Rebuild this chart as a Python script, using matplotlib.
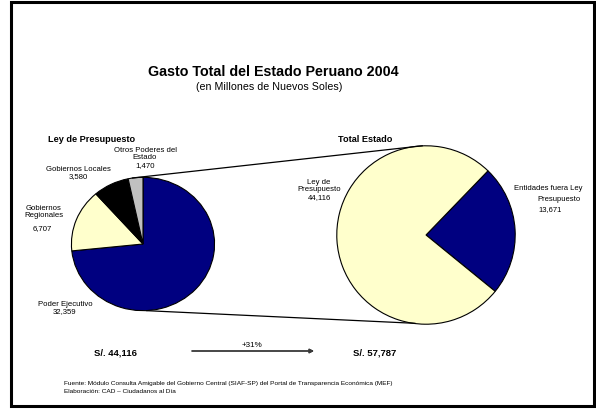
import matplotlib.pyplot as plt
from matplotlib.patches import Rectangle, ConnectionPatch

plt.rcParams['font.family'] = ['Liberation Sans', 'DejaVu Sans']

# datos (millones de nuevos soles)
ley_nombres = ['Poder Ejecutivo', 'Gobiernos Regionales', 'Gobiernos Locales', 'Otros Poderes del Estado']
ley_valores = [32359, 6707, 3580, 1470]
ley_colores = ['#000080', '#FFFFCC', '#000000', '#C0C0C0']

total_nombres = ['Entidades fuera Ley Presupuesto', 'Ley de Presupuesto']
total_valores = [13671, 44116]
total_colores = ['#000080', '#FFFFCC']

W, H = 596, 410
fig = plt.figure(figsize=(W / 100, H / 100), dpi=100)


def px(x, y):
    return x / W, 1 - y / H


def add_pie_axes(cx, cy, rx, ry):
    ax = fig.add_axes([(cx - rx) / W, (H - cy - ry) / H, 2 * rx / W, 2 * ry / H])
    return ax


# borde
fig.patches.append(Rectangle((11 / W, 3 / H), 583 / W, 404 / H, transform=fig.transFigure,
                             fill=False, edgecolor='black', linewidth=2.2))

wp = dict(edgecolor='black', linewidth=0.8)

ax1 = add_pie_axes(143, 245, 73, 68)
ax1.pie(ley_valores, colors=ley_colores, startangle=90, counterclock=False,
        wedgeprops=wp, radius=1)
ax1.set_aspect('auto')
ax1.set_xlim(-1.02, 1.02)
ax1.set_ylim(-1.02, 1.02)

ax2 = add_pie_axes(426, 236, 91, 91)
ax2.pie(total_valores, colors=total_colores, startangle=46, counterclock=False,
        wedgeprops=wp, radius=1)
ax2.set_aspect('auto')
ax2.set_xlim(-1.02, 1.02)
ax2.set_ylim(-1.02, 1.02)

# lineas de union
for a, b in [((-0.15, 0.99), (-0.04, 1.0)), ((0.05, -1.0), (-0.12, -0.99))]:
    con = ConnectionPatch(xyA=a, coordsA=ax1.transData, xyB=b, coordsB=ax2.transData,
                          color='black', linewidth=0.9)
    fig.add_artist(con)

# titulos
fig.text(*px(273, 72), 'Gasto Total del Estado Peruano 2004', ha='center', va='center',
         fontsize=10.3, fontweight='bold')
fig.text(*px(269, 87), '(en Millones de Nuevos Soles)', ha='center', va='center', fontsize=7.7)
fig.text(*px(92, 139), 'Ley de Presupuesto', ha='center', va='center', fontsize=6.6, fontweight='bold')
fig.text(*px(365, 139), 'Total Estado', ha='center', va='center', fontsize=6.6, fontweight='bold')


def fmt(v):
    return f'{v:,}'


lbl = dict(ha='center', va='center', fontsize=5.6, linespacing=1.15)
fig.text(*px(145, 158), 'Otros Poderes del\nEstado\n' + fmt(ley_valores[3]), **lbl)
fig.text(*px(78, 173), 'Gobiernos Locales\n' + fmt(ley_valores[2]), **lbl)
fig.text(*px(44, 212), 'Gobiernos\nRegionales', **lbl)
fig.text(*px(42, 229), fmt(ley_valores[1]), **lbl)
fig.text(*px(65, 308), 'Poder Ejecutivo\n' + fmt(ley_valores[0]), **lbl)

fig.text(*px(319, 190), 'Ley de\nPresupuesto\n' + fmt(total_valores[1]), **lbl)
fig.text(*px(582, 189), 'Entidades fuera Ley', ha='right', va='center', fontsize=5.5)
fig.text(*px(581, 200), 'Presupuesto', ha='right', va='center', fontsize=5.5)
fig.text(*px(550, 210), fmt(total_valores[0]), ha='center', va='center', fontsize=5.5)

# totales
fig.text(*px(116, 353), 'S/. ' + fmt(sum(ley_valores)), ha='center', va='center',
         fontsize=6.8, fontweight='bold')
fig.text(*px(375, 353), 'S/. ' + fmt(sum(total_valores)), ha='center', va='center',
         fontsize=6.8, fontweight='bold')
crec = round((sum(total_valores) / sum(ley_valores) - 1) * 100)
fig.text(*px(252, 346), f'+{crec}%', ha='center', va='center', fontsize=5.8)
fig.add_artist(plt.annotate('', xy=px(314, 352), xytext=px(192, 352), xycoords='figure fraction',
                            textcoords='figure fraction',
                            arrowprops=dict(arrowstyle='-|>', color='#3a3a3a', lw=1.0,
                                            mutation_scale=6, shrinkA=0, shrinkB=0)))

fig.text(*px(64, 384), 'Fuente: Módulo Consulta Amigable del Gobierno Central (SIAF-SP) del Portal '
         'de Transparencia Económica (MEF)', ha='left', va='center', fontsize=4.68)
fig.text(*px(64, 392), 'Elaboración: CAD – Ciudadanos al Día', ha='left', va='center', fontsize=4.68)

fig.savefig('out.png', dpi=100)
